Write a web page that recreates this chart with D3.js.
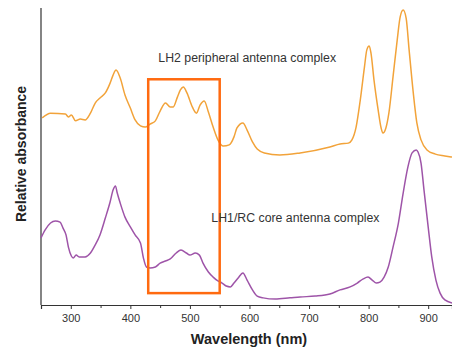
<!DOCTYPE html>
<html>
<head>
<meta charset="utf-8">
<script src="https://cdn.jsdelivr.net/npm/d3@7"></script>
<style>
  body { margin: 0; background: #fff; }
  text { font-family: "Liberation Sans", Arial, sans-serif; }
</style>
</head>
<body>
<svg width="452" height="349"></svg>
<script>
// wavelength (nm) / relative absorbance
var lh2Wl = [252,266,291,296,301,308,316,324,333,341,349,358,366,371,376,383,391,400,408,417,425,433,442,450,459,467,472,479,484,489,495,504,511,517,524,531,539,547,556,566,574,579,589,596,605,613,625,651,685,735,752,766,772,779,786,793,797,801,804,809,816,821,824,829,834,841,848,853,858,863,868,875,881,888,898,912,928,940];
var lh2Abs = [63.0,64.6,64.3,63.3,64.0,62.0,62.6,62.3,64.6,68.0,69.7,71.4,74.7,77.4,79.1,76.4,70.7,66.3,62.3,60.3,59.9,60.9,62.0,65.3,68.0,66.7,66.7,70.0,72.4,73.4,71.4,66.7,64.6,67.3,68.7,65.0,59.9,55.6,53.5,53.9,56.6,59.6,61.3,58.9,54.9,52.5,51.2,50.5,51.2,53.2,54.2,54.5,55.6,59.9,69.0,80.1,85.9,87.2,84.8,75.8,65.7,59.6,57.9,59.6,64.6,76.8,89.2,97.0,99.3,96.6,85.9,71.4,61.3,55.6,52.2,50.8,50.2,49.8];

var lh1Wl = [250,257,266,274,282,287,292,296,301,304,309,314,324,333,341,349,358,366,371,375,378,383,391,400,408,417,422,427,433,442,450,459,467,477,485,494,500,509,516,522,531,539,547,554,561,568,574,581,589,596,605,613,623,643,668,685,710,735,752,769,781,791,799,806,813,819,826,833,841,850,858,866,873,880,883,888,893,900,906,913,920,928,940];
var lh1Abs = [22.6,25.3,27.6,28.3,27.9,25.9,23.6,19.5,16.5,15.8,16.8,16.2,16.2,17.5,20.2,23.6,29.3,34.7,38.7,40.1,37.7,34.3,29.6,26.3,23.6,20.9,15.8,12.8,12.5,12.8,14.1,14.8,15.5,17.5,18.5,17.5,16.8,17.5,16.8,14.1,11.1,9.4,8.1,7.4,6.4,6.1,7.4,9.1,10.8,8.4,5.1,3.0,2.4,2.0,2.4,2.7,3.0,3.7,5.1,6.1,7.4,8.8,9.4,8.4,7.4,7.7,9.4,12.8,19.5,27.6,37.7,46.5,51.2,52.2,51.5,47.8,38.7,26.3,16.2,8.4,4.0,1.7,0.7];

var majorTicks = [300,400,500,600,700,800,900];
var minorTicks = [250,350,450,550,650,750,850];
var boxRange = [430, 550];   // highlighted wavelength band
var boxAbs = [4, 76];

var svg = d3.select('svg');

var x = d3.scaleLinear().domain([250, 940]).range([41, 452]);
var y = d3.scaleLinear().domain([0, 100]).range([305, 8]);

var line = d3.line()
	.x(function(d) { return x(d[0]); })
	.y(function(d) { return y(d[1]); })
	.curve(d3.curveMonotoneX);

// axes
svg.append('line')
	.attr('x1', x(250)).attr('x2', x(250))
	.attr('y1', y(100)).attr('y2', y(0))
	.attr('stroke', '#333').attr('stroke-width', 1.2);

var xAxis = svg.append('g')
	.attr('transform', 'translate(0,' + y(0) + ')')
	.call(d3.axisBottom(x).tickValues(majorTicks).tickSize(4).tickPadding(5).tickFormat(d3.format('d')));
xAxis.select('.domain').attr('stroke', '#333').attr('stroke-width', 1.2);
xAxis.selectAll('.tick line').attr('stroke', '#333');
xAxis.selectAll('text')
	.style('font-family', '"Liberation Sans", Arial, sans-serif')
	.style('font-size', '11px')
	.attr('fill', '#333');

svg.append('g')
	.attr('transform', 'translate(0,' + y(0) + ')')
	.call(d3.axisBottom(x).tickValues(minorTicks).tickSize(3).tickFormat(''))
	.call(function(g) { g.select('.domain').remove(); })
	.selectAll('.tick line').attr('stroke', '#333');

// spectra
svg.append('path')
	.datum(d3.zip(lh2Wl, lh2Abs))
	.attr('fill', 'none')
	.attr('stroke', '#F2A33A')
	.attr('stroke-width', 1.5)
	.attr('d', line);

svg.append('path')
	.datum(d3.zip(lh1Wl, lh1Abs))
	.attr('fill', 'none')
	.attr('stroke', '#9E54A8')
	.attr('stroke-width', 1.5)
	.attr('d', line);

// highlight box
svg.append('rect')
	.attr('x', x(boxRange[0]))
	.attr('y', y(boxAbs[1]))
	.attr('width', x(boxRange[1]) - x(boxRange[0]))
	.attr('height', y(boxAbs[0]) - y(boxAbs[1]))
	.attr('fill', 'none')
	.attr('stroke', '#FF6A10')
	.attr('stroke-width', 2.5);

// labels
svg.append('text')
	.attr('x', x(447)).attr('y', y(81.8))
	.attr('font-size', 12.3).attr('fill', '#333')
	.text('LH2 peripheral antenna complex');

svg.append('text')
	.attr('x', x(536)).attr('y', y(28))
	.attr('font-size', 12.3).attr('fill', '#333')
	.text('LH1/RC core antenna complex');

svg.append('text')
	.attr('x', 249).attr('y', 344)
	.attr('text-anchor', 'middle')
	.attr('font-size', 14.5).attr('font-weight', 'bold').attr('fill', '#222')
	.text('Wavelength (nm)');

svg.append('text')
	.attr('transform', 'translate(26,154) rotate(-90)')
	.attr('text-anchor', 'middle')
	.attr('font-size', 14).attr('font-weight', 'bold').attr('fill', '#222')
	.text('Relative absorbance');
</script>
</body>
</html>
